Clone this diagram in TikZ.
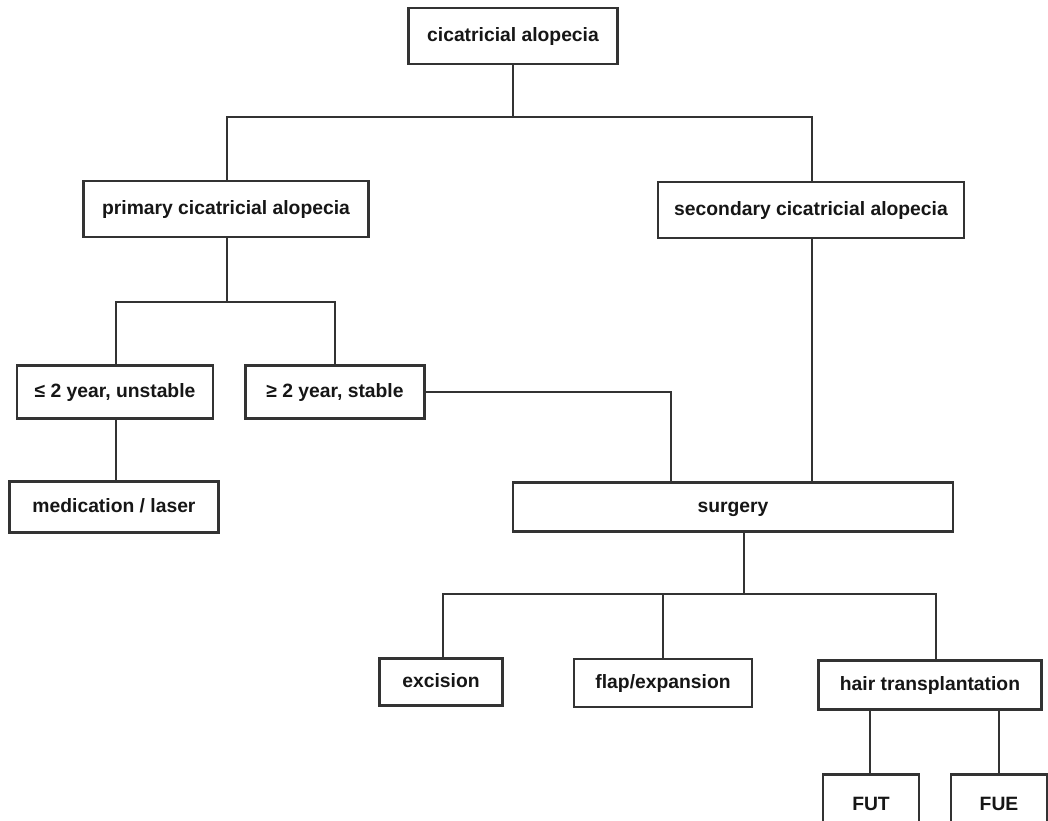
\documentclass[tikz,border=0pt]{standalone}
\usepackage{fontspec}
\setmainfont{Liberation Sans}
\usetikzlibrary{calc}
\definecolor{linec}{HTML}{333333}
\definecolor{textc}{HTML}{161616}
\tikzset{
  box/.style={draw=linec, line width=2.8pt, fill=white, rectangle, inner sep=0pt,
    text=textc, text height=14pt, text depth=4pt,
    font=\fontsize{19.3}{22}\selectfont\bfseries},
  conn/.style={draw=linec, line width=2.8pt, line cap=rect}
}
\begin{document}
\begin{tikzpicture}[x=1pt,y=-1pt]
\useasboundingbox (0,0) rectangle (1048,820);
\clip (0,0) rectangle (1048,820);
\coordinate (b1) at (0,117);
\coordinate (b2) at (0,302);
\coordinate (b3) at (0,594);

\node[box, minimum width=209pt, minimum height=56pt] (top) at (513,36) {cicatricial alopecia};
\node[box, minimum width=285pt, minimum height=56pt] (prim) at (226,209) {primary cicatricial alopecia};
\node[box, minimum width=306pt, minimum height=56pt] (sec) at (811,210) {secondary cicatricial alopecia};
\node[box, minimum width=196pt, minimum height=53pt] (le) at (115,392) {≤ 2 year, unstable};
\node[box, minimum width=179pt, minimum height=53pt] (ge) at (335,392) {≥ 2 year, stable};
\node[box, minimum width=209pt, minimum height=51pt] (med) at (114,507) {medication / laser};
\node[box, minimum width=440pt, minimum height=49pt] (surg) at (733,507) {surgery};
\node[box, minimum width=123pt, minimum height=47pt] (exc) at (441,682) {excision};
\node[box, minimum width=178pt, minimum height=48pt] (flap) at (663,683) {flap/expansion};
\node[box, minimum width=223pt, minimum height=49pt] (hair) at (930,685) {hair transplantation};
\node[box, minimum width=96pt, minimum height=61pt] (fut) at (871,805) {FUT};
\node[box, minimum width=96pt, minimum height=61pt] (fue) at (999,805) {FUE};

\coordinate (pb) at ($(prim.north)+(1,0)$);
\coordinate (sb) at ($(sec.north)+(1,0)$);
\coordinate (pbs) at ($(prim.south)+(1,0)$);
\coordinate (leN) at ($(le.north)+(1,0)$);
\coordinate (ss) at ($(surg.north)+(-62,0)$);
\coordinate (secS) at ($(sec.south)+(1,0)$);
\coordinate (surgB) at ($(surg.south)+(11,0)$);
\coordinate (hairN) at ($(hair.north)+(6,0)$);
\coordinate (exN) at ($(exc.north)+(2,0)$);
\coordinate (futN) at ($(fut.north)+(-1,0)$);

\draw[conn] (top.south) -- (top.south |- b1);
\draw[conn] (pb) -- (pb |- b1) -| (sb);
\draw[conn] (pbs) -- (pbs |- b2);
\draw[conn] (leN) -- (leN |- b2) -| (ge.north);
\draw[conn] (leN |- le.south) -- (leN |- med.north);
\draw[conn] (ge.east) -| (ss);
\draw[conn] (secS) -- (secS |- surg.north);
\draw[conn] (surgB) -- (surgB |- b3);
\draw[conn] (exN) -- (exN |- b3) -| (hairN);
\draw[conn] (flap.north) -- (flap.north |- b3);
\draw[conn] (futN) -- (futN |- hair.south);
\draw[conn] (fue.north) -- (fue.north |- hair.south);
\end{tikzpicture}
\end{document}
